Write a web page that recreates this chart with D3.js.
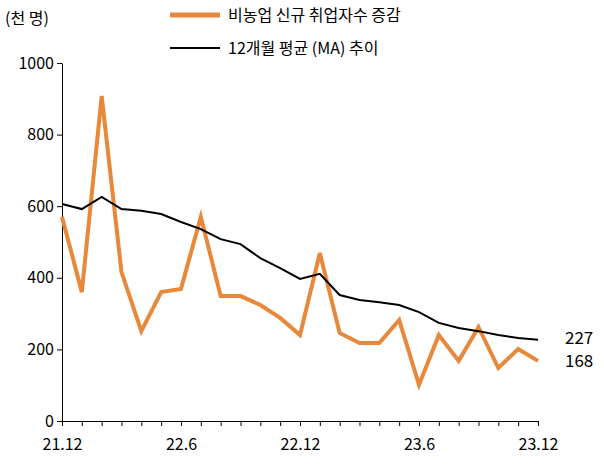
<!DOCTYPE html><html><head><meta charset="utf-8"><script src="https://cdn.jsdelivr.net/npm/d3@7"></script>
<style>body{margin:0;background:#fff}text{font-family:"Noto Sans CJK KR","Noto Sans",sans-serif}</style></head><body>
<svg id="c" width="604" height="467"></svg>
<script>
const months=["21.12","22.1","22.2","22.3","22.4","22.5","22.6","22.7","22.8","22.9","22.10","22.11","22.12","23.1","23.2","23.3","23.4","23.5","23.6","23.7","23.8","23.9","23.10","23.11","23.12"];
const jobs=[570,360,908,416,251,360,369,570,349,349,324,288,240,469,246,218,218,282,101,240,168,262,148,201,168];
const ma=[606,592,626,592,587,578,556,536,508,494,455,427,397,411,352,338,332,324,304,274,260,251,240,232,227];
const yTicks=[0,200,400,600,800,1000];
const xLabels=["21.12","22.6","22.12","23.6","23.12"];
const svg=d3.select("#c");
const x=d3.scalePoint().domain(months).range([62,538]);
const y=d3.scaleLinear().domain([0,1000]).range([421,63]);
const ya=svg.append("g").attr("transform","translate(62,0)").call(d3.axisLeft(y).tickValues(yTicks).tickFormat(d3.format("d")).tickSize(5).tickSizeOuter(0));
ya.selectAll("text").attr("font-size",16).attr("fill","#000");
const xa=svg.append("g").attr("transform","translate(0,421)").call(d3.axisBottom(x).tickSize(5).tickSizeOuter(0).tickFormat(d=>xLabels.includes(d)?d:""));
xa.selectAll("text").attr("font-size",16).attr("fill","#000").attr("dy","1.3em");
svg.selectAll(".domain,.tick line").attr("stroke","#000");
svg.append("path").datum(jobs).attr("fill","none").attr("stroke","#E8883A").attr("stroke-width",4)
 .attr("d",d3.line().x((d,i)=>x(months[i])).y(d=>y(d)));
svg.append("path").datum(ma).attr("fill","none").attr("stroke","#000").attr("stroke-width",2)
 .attr("d",d3.line().x((d,i)=>x(months[i])).y(d=>y(d)));
svg.append("text").attr("x",565).attr("y",y(ma[24])+4).attr("font-size",17).text(ma[24]);
svg.append("text").attr("x",565).attr("y",y(jobs[24])+6).attr("font-size",17).text(jobs[24]);
svg.append("text").attr("x",5).attr("y",24).attr("font-size",16).text("(천 명)");
svg.append("line").attr("x1",170).attr("x2",220).attr("y1",15).attr("y2",15).attr("stroke","#E8883A").attr("stroke-width",5);
svg.append("text").attr("x",228).attr("y",21).attr("font-size",16).text("비농업 신규 취업자수 증감");
svg.append("line").attr("x1",170).attr("x2",220).attr("y1",48).attr("y2",48).attr("stroke","#000").attr("stroke-width",2);
svg.append("text").attr("x",228).attr("y",54).attr("font-size",16).text("12개월 평균 (MA) 추이");
</script></body></html>
